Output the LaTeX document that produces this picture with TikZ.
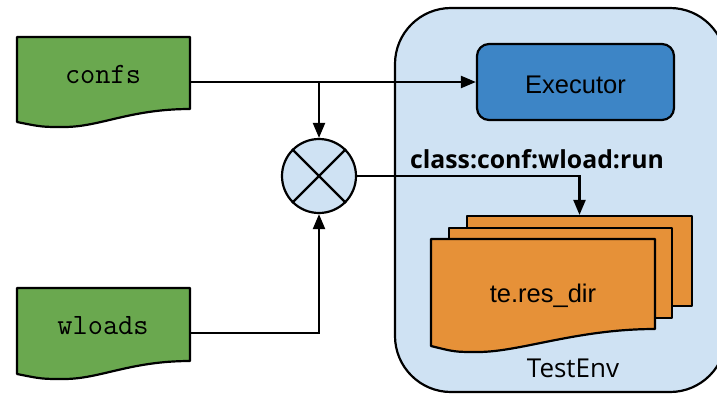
\documentclass[tikz,border=0pt]{standalone}
\usepackage{fontspec}
\setmainfont{Liberation Sans}
\newfontfamily\labf{Open Sans}
\usetikzlibrary{arrows.meta}
\definecolor{docgreen}{HTML}{6AA84F}
\definecolor{lightblue}{HTML}{CFE2F3}
\definecolor{execblue}{HTML}{3D85C6}
\definecolor{docorange}{HTML}{E69138}
\tikzset{
  outline/.style={draw=black, line width=2.2pt, line join=round},
  conn/.style={draw=black, line width=2.2pt, -{Triangle[length=15pt,width=12pt]}},
  plain/.style={draw=black, line width=2.2pt},
  txt/.style={inner sep=0pt, anchor=base},
}
\begin{document}
\begin{tikzpicture}[x=1pt,y=-1pt]
\useasboundingbox (0,0) rectangle (717,394);
% container
\begin{scope}
\clip (0,0) rectangle (717,394);
\draw[outline, fill=lightblue, rounded corners=56pt] (395,8) rectangle (726,392);
\end{scope}
% green documents
\draw[outline, fill=docgreen] (17,37) -- (190,37) -- (190,109) .. controls (130,109) and (100,127) .. (64,127) .. controls (42,127) .. (17,122) -- cycle;
\draw[outline, fill=docgreen] (17,288) -- (190,288) -- (190,361) .. controls (130,361) and (100,379) .. (64,379) .. controls (42,379) .. (17,374) -- cycle;
\node[txt, font=\ttfamily\fontsize{29.5}{33}\selectfont] (confs) at (103,83) {confs};
\node[txt, font=\ttfamily\fontsize{29.5}{33}\selectfont] (wloads) at (103,334) {wloads};
\coordinate (confsout) at (190,82);
\coordinate (wloadsout) at (190,333);
% executor
\node[outline, fill=execblue, rounded corners=12pt, minimum width=197pt, minimum height=76pt, inner sep=0pt] (exec) at (575.5,82) {};
\node[txt, font=\fontsize{25.5}{30}\selectfont] (exectext) at (575.5,93) {Executor};
% cross circle
\node[outline, fill=lightblue, circle, minimum size=74pt, inner sep=0pt] (mix) at (319,176) {};
\draw[plain] (mix.north east) -- (mix.south west);
\draw[plain] (mix.north west) -- (mix.south east);
% orange documents
\node[outline, fill=docorange, minimum width=225pt, minimum height=90pt, inner sep=0pt] (back) at (579.5,261) {};
\draw[outline, fill=docorange] (449,228) rectangle (672,318);
\draw[outline, fill=docorange] (431,239) -- (655,239) -- (655,329) .. controls (577,329) and (520,352) .. (478,352) .. controls (455,352) .. (431,346) -- cycle;
\node[txt, font=\fontsize{25.5}{30}\selectfont] (res) at (543,302) {te.res\_dir};
% labels
\node[txt, font=\labf\bfseries\fontsize{24.8}{29}\selectfont] (lbl) at (537,168) {class:conf:wload:run};
\node[txt, font=\labf\fontsize{26}{30}\selectfont] (env) at (573,377) {TestEnv};
% connectors
\coordinate (branch) at (319,82);
\draw[conn] (confsout) -- (exec.west);
\draw[conn] (branch) -- (mix.north);
\draw[conn] (wloadsout) -| (mix.south);
\draw[conn] (mix.east) -| (back.north);
\end{tikzpicture}
\end{document}
